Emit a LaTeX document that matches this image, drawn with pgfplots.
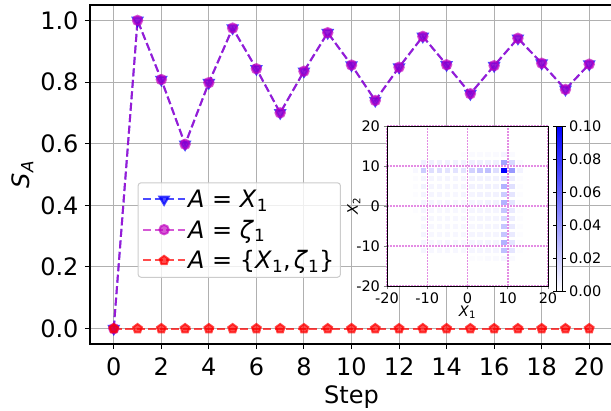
\documentclass[border=0pt]{standalone}
\usepackage{fontspec}
\setmainfont{DejaVu Sans}
\usepackage{pgfplots}
\pgfplotsset{compat=1.18}
\definecolor{mplblue}{rgb}{0,0,1}
\definecolor{mplmag}{rgb}{0.75,0,0.75}
\definecolor{mplred}{rgb}{1,0,0}
\definecolor{gridgray}{RGB}{176,176,176}
\definecolor{insetgrid}{RGB}{228,140,228}
\newcommand{\bigf}{\fontsize{24}{28}\selectfont}
\newcommand{\smf}{\fontsize{14.5}{17}\selectfont}
\begin{document}
\begin{tikzpicture}[x=1pt,y=1pt]
\useasboundingbox (0,0) rectangle (611,411);
\begin{axis}[
  at={(90pt,67pt)}, anchor=south west,
  width=523pt, height=339pt, scale only axis,
  xmin=-1, xmax=21, ymin=-0.05, ymax=1.05,
  xtick={0,2,...,20}, ytick={0,0.2,0.4,0.6,0.8,1.0},
  /pgf/number format/assume math mode=true,
  yticklabel style={xshift=-3pt, /pgf/number format/.cd, fixed, fixed zerofill, precision=1},
  xticklabel style={yshift=-5pt},
  tick label style={font=\bigf, black},
  label style={font=\bigf},
  xlabel={Step},
  ylabel={\textit{S}\textsubscript{\textit{A}}},
  xlabel style={yshift=-3pt},
  tick align=outside, major tick length=5pt,
  tick style={black, line width=1pt},
  xtick pos=bottom, ytick pos=left,
  axis line style={line width=1.2pt},
  grid=major, grid style={gridgray, line width=1pt},
  legend style={at={(0.091,0.477)}, anchor=north west,
    draw={rgb,255:red,204;green,204;blue,204}, fill=white, fill opacity=0.8, text opacity=1,
    rounded corners=3pt, font=\bigf, inner xsep=4pt, inner ysep=5pt, row sep=7pt, line width=1pt},
  legend cell align=left,
  legend image code/.code={\draw[mark repeat=2,mark phase=2,#1] plot coordinates {(0pt,0pt) (21pt,0pt) (42pt,0pt)};},
]
\addplot[color=mplblue, opacity=0.7, dashed, dash pattern=on 8pt off 3.5pt, line width=2pt,
  mark=triangle*, mark size=5.5pt, mark options={solid, rotate=180}]
coordinates {(0,0) (1,1.0) (2,0.808) (3,0.598) (4,0.798) (5,0.975) (6,0.843) (7,0.700) (8,0.835) (9,0.960) (10,0.855)
 (11,0.740) (12,0.848) (13,0.948) (14,0.856) (15,0.762) (16,0.853) (17,0.942) (18,0.861) (19,0.776) (20,0.858)};
\addlegendentry{\textit{A} = \textit{X}\textsubscript{1}}
\addplot[color=mplmag, opacity=0.65, dashed, dash pattern=on 8pt off 3.5pt, line width=2pt,
  mark=*, mark size=4.7pt, mark options={solid}]
coordinates {(0,0) (1,1.0) (2,0.808) (3,0.598) (4,0.798) (5,0.975) (6,0.843) (7,0.700) (8,0.835) (9,0.960) (10,0.855)
 (11,0.740) (12,0.848) (13,0.948) (14,0.856) (15,0.762) (16,0.853) (17,0.942) (18,0.861) (19,0.776) (20,0.858)};
\addlegendentry{\textit{A} = \textit{ζ}\textsubscript{1}}
\addplot[color=mplred, opacity=0.7, dashed, dash pattern=on 8pt off 3.5pt, line width=2pt,
  mark=pentagon*, mark size=4.6pt, mark options={solid}]
coordinates {(0,0) (1,0) (2,0) (3,0) (4,0) (5,0) (6,0) (7,0) (8,0) (9,0) (10,0)
 (11,0) (12,0) (13,0) (14,0) (15,0) (16,0) (17,0) (18,0) (19,0) (20,0)};
\addlegendentry{\textit{A} = \{\textit{X}\textsubscript{1},\hspace{3pt}\textit{ζ}\textsubscript{1}\}}
\end{axis}
\begin{axis}[
  at={(387pt,125pt)}, anchor=south west,
  width=161pt, height=160pt, scale only axis,
  xmin=-20, xmax=20, ymin=-20, ymax=20,
  xtick={-20,-10,0,10,20}, ytick={-20,-10,0,10,20},
  /pgf/number format/assume math mode=true,
  tick label style={font=\smf, black},
  label style={font=\smf},
  xlabel={\textit{X}\textsubscript{1}}, ylabel={\textit{X}\textsubscript{2}},
  xlabel style={yshift=5pt}, ylabel style={yshift=-11pt},
  tick align=outside, major tick length=3.5pt,
  tick style={line width=0.8pt},
  xtick pos=bottom, ytick pos=left,
  axis line style={line width=0.9pt},
  axis background/.style={fill=white},
  grid=major,
  grid style={color=insetgrid, dash pattern=on 1.5pt off 1.5pt, line width=1.5pt},
  axis on top,
  colormap={wb}{rgb=(1,1,1) rgb=(0,0,1)},
  point meta min=0, point meta max=0.1,
  colorbar,
  colorbar style={at={([xshift=11pt,yshift=1pt]parent axis.north east)}, anchor=north west,
    width=5.5pt, height=165pt, grid=none,
    ytick={0,0.02,0.04,0.06,0.08,0.1},
    /pgf/number format/assume math mode=true,
    yticklabel style={font=\smf, /pgf/number format/.cd, fixed, fixed zerofill, precision=2},
    tick align=outside, major tick length=3.5pt, tick style={black, line width=0.8pt},
    axis line style={line width=0.8pt}},
]
\addplot[scatter, only marks, mark=square*, mark size=2.2pt, point meta=explicit,
  scatter/use mapped color={draw=mapped color, fill=mapped color}]
table[row sep=\\, meta=c] {x y c\\
-1 13 0.001\\ 1 13 0.002\\ 3 13 0.002\\ 5 13 0.002\\ 7 13 0.002\\ 9 13 0.004\\ 11 13 0.002\\
-11 11 0.006\\ -9 11 0.006\\ -7 11 0.005\\ -5 11 0.005\\ -3 11 0.005\\ -1 11 0.005\\ 1 11 0.006\\ 3 11 0.006\\ 5 11 0.006\\ 7 11 0.006\\ 9 11 0.035\\ 11 11 0.015\\ 13 11 0.002\\
-13 9 0.003\\ -11 9 0.02\\ -9 9 0.013\\ -7 9 0.013\\ -5 9 0.011\\ -3 9 0.011\\ -1 9 0.011\\ 1 9 0.018\\ 3 9 0.022\\ 5 9 0.025\\ 7 9 0.013\\ 9 9 0.1\\ 11 9 0.04\\ 13 9 0.005\\
-13 7 0.001\\ -11 7 0.004\\ -9 7 0.004\\ -7 7 0.004\\ -5 7 0.004\\ -3 7 0.004\\ -1 7 0.004\\ 1 7 0.005\\ 3 7 0.005\\ 5 7 0.005\\ 7 7 0.005\\ 9 7 0.015\\ 11 7 0.007\\ 13 7 0.001\\
-13 5 0.001\\ -11 5 0.005\\ -9 5 0.004\\ -7 5 0.004\\ -5 5 0.004\\ -3 5 0.004\\ -1 5 0.004\\ 1 5 0.005\\ 3 5 0.005\\ 5 5 0.006\\ 7 5 0.005\\ 9 5 0.03\\ 11 5 0.012\\ 13 5 0.001\\
-13 3 0.001\\ -11 3 0.004\\ -9 3 0.004\\ -7 3 0.004\\ -5 3 0.003\\ -3 3 0.003\\ -1 3 0.004\\ 1 3 0.004\\ 3 3 0.005\\ 5 3 0.005\\ 7 3 0.005\\ 9 3 0.02\\ 11 3 0.01\\ 13 3 0.001\\
-13 1 0.001\\ -11 1 0.004\\ -9 1 0.004\\ -7 1 0.003\\ -5 1 0.003\\ -3 1 0.003\\ -1 1 0.003\\ 1 1 0.004\\ 3 1 0.004\\ 5 1 0.005\\ 7 1 0.005\\ 9 1 0.03\\ 11 1 0.01\\ 13 1 0.001\\
-13 -1 0.001\\ -11 -1 0.004\\ -9 -1 0.003\\ -7 -1 0.003\\ -5 -1 0.003\\ -3 -1 0.003\\ -1 -1 0.003\\ 1 -1 0.004\\ 3 -1 0.004\\ 5 -1 0.004\\ 7 -1 0.004\\ 9 -1 0.022\\ 11 -1 0.008\\ 13 -1 0.001\\
-11 -3 0.003\\ -9 -3 0.003\\ -7 -3 0.003\\ -5 -3 0.003\\ -3 -3 0.003\\ -1 -3 0.003\\ 1 -3 0.003\\ 3 -3 0.004\\ 5 -3 0.004\\ 7 -3 0.004\\ 9 -3 0.015\\ 11 -3 0.007\\ 13 -3 0.001\\
-11 -5 0.003\\ -9 -5 0.003\\ -7 -5 0.003\\ -5 -5 0.003\\ -3 -5 0.003\\ -1 -5 0.003\\ 1 -5 0.003\\ 3 -5 0.004\\ 5 -5 0.004\\ 7 -5 0.004\\ 9 -5 0.022\\ 11 -5 0.008\\ 13 -5 0.001\\
-11 -7 0.004\\ -9 -7 0.003\\ -7 -7 0.003\\ -5 -7 0.003\\ -3 -7 0.003\\ -1 -7 0.003\\ 1 -7 0.004\\ 3 -7 0.004\\ 5 -7 0.004\\ 7 -7 0.004\\ 9 -7 0.022\\ 11 -7 0.008\\ 13 -7 0.001\\
-11 -9 0.004\\ -9 -9 0.003\\ -7 -9 0.003\\ -5 -9 0.003\\ -3 -9 0.003\\ -1 -9 0.003\\ 1 -9 0.004\\ 3 -9 0.004\\ 5 -9 0.004\\ 7 -9 0.004\\ 9 -9 0.03\\ 11 -9 0.01\\ 13 -9 0.001\\
-11 -11 0.004\\ -9 -11 0.003\\ -7 -11 0.003\\ -5 -11 0.003\\ -3 -11 0.003\\ -1 -11 0.003\\ 1 -11 0.004\\ 3 -11 0.004\\ 5 -11 0.004\\ 7 -11 0.004\\ 9 -11 0.025\\ 11 -11 0.01\\ 13 -11 0.001\\
1 -13 0.001\\ 3 -13 0.001\\ 5 -13 0.002\\ 7 -13 0.002\\ 9 -13 0.004\\ 11 -13 0.002\\
};
\end{axis}
\end{tikzpicture}
\end{document}
